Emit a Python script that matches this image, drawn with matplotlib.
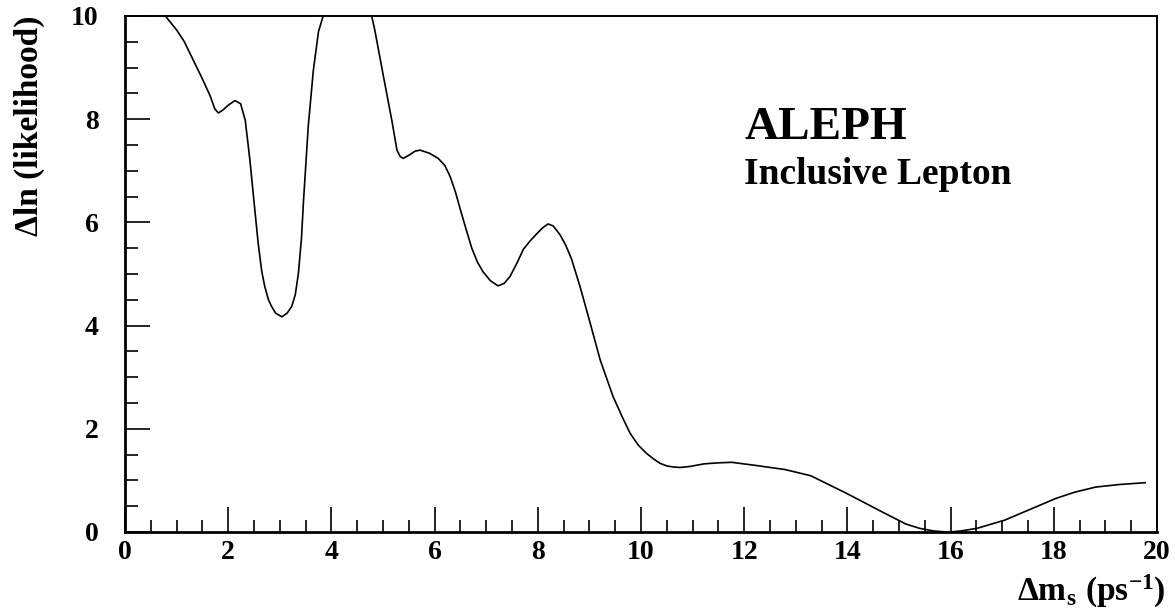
import matplotlib
matplotlib.use("Agg")
import matplotlib.pyplot as plt
from matplotlib.ticker import MultipleLocator

plt.rcParams['font.family'] = ['Liberation Serif', 'DejaVu Serif']
plt.rcParams['font.weight'] = 'bold'
plt.rcParams['mathtext.fontset'] = 'custom'
plt.rcParams['mathtext.rm'] = 'Liberation Serif:bold'
plt.rcParams['mathtext.it'] = 'Liberation Serif:bold'
plt.rcParams['mathtext.bf'] = 'Liberation Serif:bold'

# Digitised likelihood scan (values above 10 are clipped by the axes)
dms = [0.40, 0.60, 0.78, 1.00, 1.15, 1.32, 1.50, 1.65, 1.74, 1.81, 1.90, 2.00,
       2.13, 2.24, 2.33, 2.42, 2.50, 2.58, 2.65, 2.71, 2.78, 2.84, 2.92, 3.04,
       3.14, 3.23, 3.30, 3.36, 3.42, 3.46, 3.55, 3.65, 3.75, 3.84,
       4.30, 4.78, 4.84, 5.01, 5.17, 5.27, 5.33, 5.39, 5.50, 5.62, 5.72, 5.90,
       6.07, 6.20, 6.30, 6.40, 6.49, 6.60, 6.72, 6.83, 6.94, 7.08, 7.23, 7.35,
       7.46, 7.60, 7.72, 7.85, 7.98, 8.10, 8.20, 8.30, 8.43, 8.54, 8.65, 8.82,
       9.00, 9.21, 9.46, 9.65, 9.79, 9.95, 10.11, 10.25, 10.37, 10.50, 10.62,
       10.76, 10.95, 11.22, 11.50, 11.76, 12.22, 12.79, 13.29, 13.98, 14.67,
       15.13, 15.40, 15.67, 15.85, 15.99, 16.20, 16.51, 17.05, 18.04, 18.40,
       18.81, 19.27, 19.77]
dlnl = [10.4, 10.2, 10.0, 9.73, 9.50, 9.15, 8.78, 8.45, 8.20, 8.12, 8.18, 8.27,
        8.36, 8.30, 7.98, 7.21, 6.40, 5.60, 5.05, 4.75, 4.50, 4.37, 4.24, 4.17,
        4.24, 4.37, 4.60, 5.01, 5.70, 6.43, 7.85, 8.95, 9.70, 10.0,
        11.0, 10.0, 9.73, 8.82, 7.98, 7.40, 7.28, 7.24, 7.30, 7.38, 7.40, 7.34,
        7.24, 7.10, 6.89, 6.60, 6.28, 5.90, 5.50, 5.23, 5.04, 4.87, 4.77, 4.82,
        4.95, 5.22, 5.48, 5.64, 5.78, 5.90, 5.97, 5.93, 5.76, 5.56, 5.30, 4.75,
        4.10, 3.33, 2.62, 2.20, 1.91, 1.68, 1.52, 1.41, 1.33, 1.28, 1.26,
        1.25, 1.27, 1.32, 1.34, 1.35, 1.29, 1.21, 1.09, 0.75, 0.39,
        0.155, 0.07, 0.02, 0.005, 0.0, 0.02, 0.07, 0.23, 0.65, 0.77,
        0.87, 0.92, 0.955]

fig = plt.figure(figsize=(11.75, 6.15), dpi=100)
ax = fig.add_axes([0.1064, 0.135, 0.8783, 0.839])

ax.plot(dms, dlnl, color='black', lw=1.2)
ax.set_xlim(0, 20)
ax.set_ylim(0, 10)

ax.xaxis.set_major_locator(MultipleLocator(2))
ax.xaxis.set_minor_locator(MultipleLocator(0.5))
ax.yaxis.set_major_locator(MultipleLocator(2))
ax.yaxis.set_minor_locator(MultipleLocator(0.5))
ax.tick_params(which='both', direction='in', top=False, right=False, width=1.2)
ax.tick_params(which='major', length=18, labelsize=20)
ax.tick_params(which='minor', length=9)
ax.tick_params(axis='y', which='major', pad=19)
ax.tick_params(axis='x', which='major', pad=6)
for lab in ax.get_xticklabels() + ax.get_yticklabels():
    lab.set_fontweight('bold')
for s in ax.spines.values():
    s.set_linewidth(1.4)
ax.spines['left'].set_linewidth(2.0)
ax.spines['bottom'].set_linewidth(2.0)

ax.set_ylabel('\u0394ln (likelihood)', fontsize=24, fontweight='bold')
ax.yaxis.set_label_coords(-0.078, 1.0)
ax.yaxis.label.set_horizontalalignment('right')

ax.set_xlabel(r'$\Delta\mathrm{m_s\ (ps^{-1})}$', fontsize=24)
ax.xaxis.set_label_coords(1.008, -0.08)
ax.xaxis.label.set_horizontalalignment('right')

ax.text(0.6, 0.762, 'ALEPH', transform=ax.transAxes, fontsize=34,
        fontweight='bold', ha='left', va='baseline')
ax.text(0.6, 0.674, 'Inclusive Lepton', transform=ax.transAxes, fontsize=27,
        fontweight='bold', ha='left', va='baseline')

fig.savefig('out.png', dpi=100)
